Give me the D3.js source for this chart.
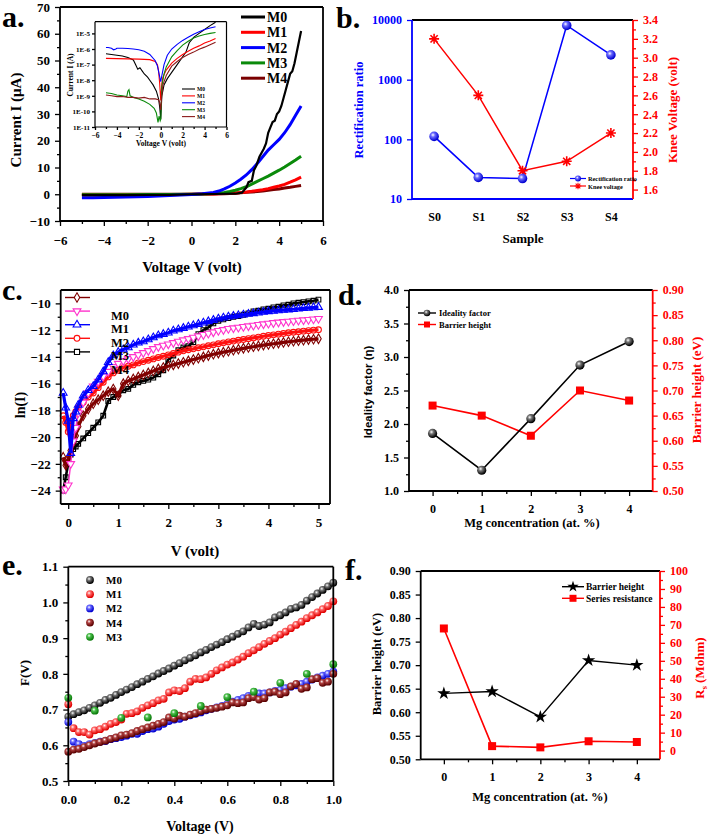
<!DOCTYPE html>
<html><head><meta charset="utf-8">
<script src="https://cdn.jsdelivr.net/npm/d3@7"></script>
<style>body{margin:0;background:#fff}svg{display:block}</style>
</head><body><svg id="fig" width="709" height="835"></svg>
<script>
// ---------- Panel a: I-V (linear) ----------
const aSeriesNames = ["M0","M1","M2","M3","M4"];
const aVoltsM0 = [-5,-4,-3,-2,-1,0,1,2,2.3,2.5,2.6,2.75,2.85,2.95,3.1,3.3,3.4,3.5,3.6,3.7,3.8,3.9,4.0,4.1,4.2,4.3,4.4,4.5,4.6,4.7,4.8,4.9,5.0];
const aCurrentM0 = [-0.3,-0.3,-0.3,-0.25,-0.2,0,0.1,0.2,0.6,2.5,4.5,5,9,10.5,14,17,19,23,25,27,27.5,30,31,33,36,39,42,45,46,49,53,57,61];
const aVolts = [-5,-4.5,-4,-3,-2,-1,0,0.5,1,1.25,1.5,1.75,2,2.25,2.5,2.75,3,3.25,3.5,3.75,4,4.25,4.5,4.75,5];
const aCurrentM1 = [-0.25,-0.25,-0.25,-0.2,-0.2,-0.15,0,0.05,0.1,0.15,0.25,0.35,0.5,0.65,0.85,1.1,1.4,1.7,2.1,2.6,3.1,3.7,4.5,5.4,6.4];
const aCurrentM2 = [-1.3,-1.3,-1.2,-1.0,-0.8,-0.5,-0.1,0.2,0.7,1.2,2.0,3.0,4.2,5.6,7.2,9.2,11.5,14,16.5,18.5,20.5,23,26,29.5,33];
const aCurrentM3 = [-0.2,-0.2,-0.2,-0.15,-0.1,-0.05,0,0.1,0.3,0.45,0.7,1.0,1.5,2.1,2.8,3.8,4.8,5.8,6.8,7.9,9.0,10.2,11.5,12.8,14.2];
const aCurrentM4 = [0,0,0,0,0,0,0,0.05,0.1,0.15,0.2,0.3,0.4,0.55,0.7,0.85,1.0,1.25,1.5,1.75,2.0,2.3,2.6,2.95,3.3];
const aYTicks = [-10,0,10,20,30,40,50,60,70];
const aXTicks = [-6,-4,-2,0,2,4,6];

// inset (log10 of current in A)
const insetV_M0 = [-5,-4.5,-4,-3.5,-3,-2.5,-2.3,-2.1,-1.9,-1.7,-1.5,-1.2,-1,-0.7,-0.4,-0.2,-0.1,0,0.1,0.3,0.6,1,1.5,2,2.3,2.6,3,3.5,4,4.5,5];
const insetLog_M0 = [-6.3,-6.35,-6.4,-6.45,-6.55,-6.7,-7.0,-7.3,-7.2,-7.4,-7.6,-7.8,-8.0,-8.3,-8.7,-9.2,-9.7,-10.5,-9.0,-8.3,-7.9,-7.5,-7.0,-6.5,-6.2,-5.6,-5.25,-5.0,-4.75,-4.5,-4.28];
const insetV_M1 = [-5,-4,-3,-2,-1,-0.5,-0.3,-0.2,-0.1,0,0.1,0.2,0.5,1,1.5,2,2.5,3,3.5,4,4.5,5];
const insetLog_M1 = [-6.6,-6.62,-6.63,-6.65,-6.68,-6.8,-7.0,-7.4,-8.2,-9.3,-8.2,-7.8,-7.35,-6.9,-6.6,-6.35,-6.15,-5.95,-5.8,-5.62,-5.48,-5.33];
const insetV_M2 = [-5,-4.8,-4.5,-4.3,-4.1,-4,-3.5,-3,-2.5,-2,-1.5,-1,-0.5,-0.3,-0.15,0,0.1,0.3,0.6,1,1.5,2,2.5,3,3.5,4,4.5,5];
const insetLog_M2 = [-5.9,-5.9,-5.95,-6.05,-6.0,-5.95,-5.95,-5.97,-6.0,-6.05,-6.15,-6.35,-6.75,-7.1,-7.6,-8.1,-7.7,-7.0,-6.4,-6.0,-5.7,-5.45,-5.25,-5.05,-4.9,-4.75,-4.65,-4.57];
const insetV_M3 = [-5,-4.5,-4,-3.5,-3.1,-3.0,-2.9,-2.8,-2.5,-2,-1.5,-1,-0.6,-0.4,-0.25,-0.15,-0.05,0,0.1,0.3,0.5,1,1.5,2,2.5,3,3.5,4,4.5,5];
const insetLog_M3 = [-8.8,-8.85,-8.95,-9.0,-9.05,-8.7,-8.6,-9.0,-9.1,-9.2,-9.35,-9.55,-9.8,-10.1,-10.7,-10.3,-10.6,-10.5,-8.4,-7.6,-7.15,-6.5,-6.1,-5.75,-5.5,-5.3,-5.17,-5.07,-5.0,-4.94];
const insetV_M4 = [-5,-4.5,-4,-3.5,-3,-2.5,-2,-1.5,-1,-0.5,-0.2,-0.1,0,0.1,0.2,0.5,1,1.5,2,2.5,3,3.5,4,4.5,5];
const insetLog_M4 = [-8.95,-9.0,-9.05,-9.05,-9.1,-9.1,-9.15,-9.1,-9.2,-9.2,-9.25,-9.4,-9.9,-8.9,-8.3,-7.7,-7.1,-6.8,-6.55,-6.35,-6.2,-6.02,-5.88,-5.72,-5.56];
const insetYTicks = [1e-11,1e-10,1e-9,1e-8,1e-7,1e-6,1e-5];
const insetYLabels = ["1E-11","1E-10","1E-9","1E-8","1E-7","1E-6","1E-5"];

// ---------- Panel b ----------
const bSamples = ["S0","S1","S2","S3","S4"];
const bRectification = [112,23,22,8100,2600];
const bKneeVoltage = [3.2,2.6,1.8,1.9,2.2];
const bLeftTicks = [10,100,1000,10000];
const bRightTicks = [1.6,1.8,2.0,2.2,2.4,2.6,2.8,3.0,3.2,3.4];

// ---------- Panel c ----------
const cVolts = [-0.1,-0.05,0,0.05,0.1,0.15,0.2,0.3,0.4,0.5,0.6,0.7,0.8,0.9,1.0,1.1,1.2,1.3,1.4,1.5,1.6,1.7,1.8,1.9,2.0,2.1,2.2,2.3,2.4,2.5,2.6,2.7,2.8,2.9,3.0,3.1,3.2,3.3,3.4,3.5,3.6,3.7,3.8,3.9,4.0,4.1,4.2,4.3,4.4,4.5,4.6,4.7,4.8,4.9,5.0];
const cLnBrown = [-21.5,-22.1,-21.6,-21.0,-20.4,-19.9,-19.2,-18.4,-17.9,-17.5,-17.2,-16.9,-16.6,-16.4,-16.9,-16.0,-15.8,-15.65,-15.5,-15.35,-15.2,-15.05,-14.9,-14.8,-14.7,-14.6,-14.5,-14.4,-14.3,-14.2,-14.1,-14.0,-13.9,-13.8,-13.72,-13.65,-13.58,-13.5,-13.43,-13.36,-13.3,-13.24,-13.18,-13.12,-13.07,-13.02,-12.97,-12.92,-12.87,-12.83,-12.79,-12.75,-12.71,-12.68,-12.65];
const cLnM0 = [-23.9,-23.9,-23.6,-22.0,-20.3,-19.3,-18.2,-17.4,-16.7,-16.2,-15.85,-15.45,-15.1,-14.75,-14.5,-14.3,-14.15,-14.0,-13.85,-13.7,-13.55,-13.4,-13.25,-13.15,-13.05,-12.95,-12.85,-12.75,-12.65,-12.55,-12.45,-12.35,-12.25,-12.15,-12.05,-11.98,-11.9,-11.85,-11.8,-11.75,-11.7,-11.65,-11.6,-11.55,-11.5,-11.46,-11.42,-11.38,-11.35,-11.32,-11.28,-11.25,-11.22,-11.19,-11.15];
const cLnM1 = [-16.7,-17.8,-18.8,-21.2,-18.6,-18.1,-17.6,-16.9,-16.5,-16.2,-15.7,-15.1,-14.4,-13.9,-13.65,-13.45,-13.3,-13.1,-12.95,-12.85,-12.7,-12.55,-12.4,-12.3,-12.2,-12.05,-11.95,-11.85,-11.75,-11.65,-11.55,-11.45,-11.35,-11.25,-11.15,-11.08,-11.0,-10.95,-10.9,-10.85,-10.8,-10.75,-10.7,-10.65,-10.6,-10.57,-10.53,-10.5,-10.47,-10.44,-10.4,-10.37,-10.34,-10.31,-10.28];
const cLnM2 = [-18.4,-18.9,-19.6,-19.0,-18.4,-18.1,-17.8,-17.4,-17.0,-16.7,-16.3,-15.9,-15.5,-15.2,-15.0,-14.8,-14.7,-14.6,-14.45,-14.35,-14.25,-14.15,-14.05,-13.95,-13.85,-13.75,-13.65,-13.55,-13.47,-13.4,-13.32,-13.25,-13.17,-13.1,-13.02,-12.95,-12.88,-12.82,-12.76,-12.7,-12.64,-12.58,-12.52,-12.46,-12.4,-12.35,-12.3,-12.25,-12.2,-12.16,-12.12,-12.08,-12.04,-12.0,-11.97];
const cLnM3 = [-24.0,-23.0,-22.0,-21.3,-20.9,-20.7,-20.5,-20.1,-19.7,-19.3,-18.9,-18.4,-17.3,-17.0,-16.8,-16.5,-16.4,-16.1,-15.9,-15.8,-15.7,-15.55,-15.3,-15.0,-14.2,-13.9,-13.5,-13.3,-13.2,-12.9,-12.3,-12.0,-11.8,-11.5,-11.3,-11.2,-11.1,-11.0,-10.95,-10.85,-10.75,-10.6,-10.55,-10.45,-10.4,-10.3,-10.25,-10.15,-10.1,-10.0,-9.95,-9.9,-9.85,-9.8,-9.72];
const cYTicks = [-24,-22,-20,-18,-16,-14,-12,-10];
const cXTicks = [0,1,2,3,4,5];
const cLegendLabels = ["M0","M1","M2","M3","M4"];

// ---------- Panel d ----------
const dMg = [0,1,2,3,4];
const dIdeality = [1.86,1.31,2.08,2.88,3.23];
const dBarrier = [0.67,0.65,0.61,0.70,0.68];
const dLeftTicks = [1.0,1.5,2.0,2.5,3.0,3.5,4.0];
const dRightTicks = [0.50,0.55,0.60,0.65,0.70,0.75,0.80,0.85,0.90];

// ---------- Panel e ----------
const eVolts = [0,0.02,0.04,0.06,0.08,0.1,0.12,0.14,0.16,0.18,0.2,0.22,0.24,0.26,0.28,0.3,0.32,0.34,0.36,0.38,0.4,0.42,0.44,0.46,0.48,0.5,0.52,0.54,0.56,0.58,0.6,0.62,0.64,0.66,0.68,0.7,0.72,0.74,0.76,0.78,0.8,0.82,0.84,0.86,0.88,0.9,0.92,0.94,0.96,0.98,1.0];
const eFM0 = [0.680,0.687,0.693,0.698,0.705,0.712,0.719,0.727,0.733,0.741,0.749,0.756,0.763,0.771,0.778,0.786,0.793,0.801,0.808,0.815,0.823,0.830,0.838,0.845,0.852,0.860,0.867,0.875,0.882,0.889,0.897,0.904,0.912,0.919,0.930,0.940,0.934,0.938,0.944,0.958,0.964,0.972,0.982,0.986,0.993,1.005,1.015,1.025,1.035,1.045,1.055];
const eFM1 = [0.715,0.648,0.637,0.637,0.630,0.642,0.645,0.652,0.660,0.665,0.672,0.688,0.690,0.695,0.705,0.712,0.718,0.726,0.730,0.748,0.754,0.752,0.760,0.778,0.786,0.785,0.790,0.800,0.810,0.818,0.826,0.832,0.840,0.848,0.858,0.866,0.875,0.884,0.892,0.900,0.910,0.918,0.928,0.937,0.946,0.956,0.964,0.972,0.981,0.990,1.003];
const eFM2 = [0.665,0.610,0.603,0.598,0.603,0.607,0.610,0.612,0.617,0.620,0.623,0.627,0.632,0.632,0.640,0.645,0.647,0.652,0.660,0.668,0.672,0.674,0.680,0.684,0.688,0.692,0.698,0.702,0.706,0.710,0.716,0.722,0.727,0.732,0.738,0.740,0.745,0.745,0.748,0.752,0.755,0.760,0.764,0.768,0.772,0.778,0.784,0.790,0.795,0.800,0.806];
const eFM4 = [0.582,0.588,0.590,0.595,0.600,0.605,0.609,0.613,0.618,0.622,0.628,0.630,0.634,0.640,0.645,0.650,0.655,0.660,0.665,0.678,0.675,0.683,0.680,0.686,0.690,0.695,0.700,0.702,0.705,0.708,0.712,0.720,0.718,0.720,0.732,0.735,0.728,0.732,0.748,0.750,0.743,0.748,0.765,0.772,0.758,0.762,0.785,0.788,0.775,0.778,0.800];
const eVoltsM3 = [0,0.1,0.2,0.3,0.4,0.5,0.6,0.7,0.8,0.9,1.0];
const eFM3 = [0.733,0.697,0.677,0.678,0.690,0.710,0.735,0.750,0.775,0.800,0.827];
const eYTicks = [0.5,0.6,0.7,0.8,0.9,1.0,1.1];
const eXTicks = [0,0.2,0.4,0.6,0.8,1.0];

// ---------- Panel f ----------
const fMg = [0,1,2,3,4];
const fBarrier = [0.64,0.644,0.59,0.71,0.70];
const fSeriesRes = [68,2.5,1.8,5.2,4.8];
const fLeftTicks = [0.50,0.55,0.60,0.65,0.70,0.75,0.80,0.85,0.90];
const fRightTicks = [0,10,20,30,40,50,60,70,80,90,100];

// ================= drawing =================
const SERIF = '"Liberation Serif","Times New Roman",serif';
const SANS = '"Liberation Sans",Arial,sans-serif';
const svg = d3.select("#fig");
svg.append("rect").attr("width",709).attr("height",835).attr("fill","#fff");
const defs = svg.append("defs");
function sphere(id, light, base){
  const g = defs.append("radialGradient").attr("id",id).attr("cx","38%").attr("cy","35%").attr("r","62%");
  g.append("stop").attr("offset","0%").attr("stop-color","#fff");
  g.append("stop").attr("offset","35%").attr("stop-color",light);
  g.append("stop").attr("offset","100%").attr("stop-color",base);
}
sphere("sBlack","#777","#000"); sphere("sRed","#ff6a6a","#e00000"); sphere("sBlue","#6a6aff","#0000d0");
sphere("sBrown","#b04040","#5a0000"); sphere("sGreen","#4cc04c","#0a7a0a");

function txt(g,x,y,s,o={}){
  const t=g.append("text").attr("x",x).attr("y",y).text(s)
   .attr("font-family",o.family||SERIF).attr("font-weight",o.weight||"bold")
   .attr("font-size",o.size||13).attr("fill",o.color||"#000").attr("text-anchor",o.anchor||"start");
  if(o.rotate) t.attr("transform",`rotate(${o.rotate},${x},${y})`);
  return t;
}
function addAxis(g,gen,tx,ty,color,size,family){
  const a=g.append("g").attr("transform",`translate(${tx},${ty})`).call(gen);
  a.select(".domain").remove();
  a.selectAll(".tick line").attr("stroke",color).attr("stroke-width",1.3);
  a.selectAll(".tick text").attr("fill",color).attr("font-size",size).attr("font-weight","bold").attr("font-family",family||SERIF);
  return a;
}
function frame(g,x0,y0,x1,y1,c={},w=1.8){
  const col=Object.assign({t:"#000",r:"#000",b:"#000",l:"#000"},c);
  g.append("line").attr("x1",x0).attr("x2",x1).attr("y1",y0).attr("y2",y0).attr("stroke",col.t).attr("stroke-width",w);
  g.append("line").attr("x1",x0).attr("x2",x1).attr("y1",y1).attr("y2",y1).attr("stroke",col.b).attr("stroke-width",w);
  g.append("line").attr("x1",x0).attr("x2",x0).attr("y1",y0).attr("y2",y1).attr("stroke",col.l).attr("stroke-width",w);
  g.append("line").attr("x1",x1).attr("x2",x1).attr("y1",y0).attr("y2",y1).attr("stroke",col.r).attr("stroke-width",w);
}
function minorVals(ticks,step){const out=[];for(let i=0;i<ticks.length-1;i++){out.push(+(ticks[i]+step).toFixed(4));}return out;}

// panel letters
[["a.",2,27],["b.",336,28],["c.",2,300],["d.",338,305],["e.",2,575],["f.",345,580]].forEach(d=>txt(svg,d[1],d[2],d[0],{size:30}));

// ---------------- Panel a ----------------
{
const g=svg.append("g");
const x=d3.scaleLinear().domain([-6,6]).range([60,323]);
const y=d3.scaleLinear().domain([-10,70]).range([221,7]);
addAxis(g,d3.axisLeft(y).tickValues(aYTicks).tickSize(5).tickPadding(5).tickFormat(d3.format("d")),60,0,"#000",13);
addAxis(g,d3.axisLeft(y).tickValues(minorVals(aYTicks,5)).tickSize(3).tickFormat(""),60,0,"#000",13);
addAxis(g,d3.axisBottom(x).tickValues(aXTicks).tickSize(5).tickPadding(10).tickFormat(d3.format("d")),0,221,"#000",13);
addAxis(g,d3.axisBottom(x).tickValues(minorVals(aXTicks,1)).tickSize(3).tickFormat(""),0,221,"#000",13);
const cols={M0:"#000",M1:"#ff0000",M2:"#0000ff",M3:"#0a8a0a",M4:"#7a0000"};
const series=[["M4",aVolts,aCurrentM4],["M1",aVolts,aCurrentM1],["M3",aVolts,aCurrentM3],["M2",aVolts,aCurrentM2],["M0",aVoltsM0,aCurrentM0]];
const line=d3.line().x(d=>x(d[0])).y(d=>y(d[1]));
series.forEach(s=>{
  g.append("path").datum(d3.zip(s[1],s[2])).attr("d",line).attr("fill","none").attr("stroke",cols[s[0]]).attr("stroke-width",s[0]=="M0"?2.2:3);
});
frame(g,60,7,323,221);
txt(g,192,272,"Voltage V (volt)",{size:15,anchor:"middle"});
txt(g,21,120,"Current I (\u03bcA)",{size:15,anchor:"middle",rotate:-90});
aSeriesNames.forEach((n,i)=>{
  const yy=17+i*15.3;
  g.append("line").attr("x1",241).attr("x2",265).attr("y1",yy).attr("y2",yy).attr("stroke",cols[n]).attr("stroke-width",3);
  txt(g,267,yy+5,n,{size:14});
});
// inset
const xi=d3.scaleLinear().domain([-6,6]).range([95,226.5]);
const yi=d3.scaleLog().domain([1e-11,Math.pow(10,-4.25)]).range([127,21.7]);
g.append("rect").attr("x",95).attr("y",21.7).attr("width",131.5).attr("height",105.3).attr("fill","#fff");
addAxis(g,d3.axisLeft(yi).tickValues(insetYTicks).tickSize(3).tickPadding(2).tickFormat((d,i)=>insetYLabels[i]),95,0,"#000",7);
addAxis(g,d3.axisBottom(xi).tickValues(aXTicks).tickSize(3).tickPadding(3).tickFormat(d3.format("d")),0,127,"#000",7.5);
addAxis(g,d3.axisBottom(xi).tickValues(minorVals(aXTicks,1)).tickSize(2).tickFormat(""),0,127,"#000",7);
const il=d3.line().x(d=>xi(d[0])).y(d=>yi(Math.pow(10,d[1])));
const iser=[["M0",insetV_M0,insetLog_M0],["M1",insetV_M1,insetLog_M1],["M2",insetV_M2,insetLog_M2],["M3",insetV_M3,insetLog_M3],["M4",insetV_M4,insetLog_M4]];
const icol={M0:"#000",M1:"#ff0000",M2:"#0000ff",M3:"#0a8a0a",M4:"#8b1a1a"};
iser.forEach(s=>g.append("path").datum(d3.zip(s[1],s[2])).attr("d",il).attr("fill","none").attr("stroke",icol[s[0]]).attr("stroke-width",1.1));
frame(g,95,21.7,226.5,127,{},1.2);
txt(g,161,146,"Voltage V (volt)",{size:7.5,anchor:"middle"});
txt(g,73,75,"Current I (A)",{size:7.5,anchor:"middle",rotate:-90});
aSeriesNames.forEach((n,i)=>{
  const yy=89+i*6.9;
  g.append("line").attr("x1",182).attr("x2",195).attr("y1",yy).attr("y2",yy).attr("stroke",icol[n]).attr("stroke-width",1.1);
  txt(g,197,yy+2,n,{size:5.5});
});
}

// ---------------- Panel b ----------------
{
const g=svg.append("g");
const x=d3.scaleLinear().domain([-0.5,4.5]).range([412,633]);
const y=d3.scaleLog().domain([10,10000]).range([199,20]);
const y2=d3.scaleLinear().domain([1.5,3.4]).range([199,20]);
addAxis(g,d3.axisLeft(y).tickValues(bLeftTicks).tickSize(5).tickPadding(5).tickFormat(d3.format("d")),412,0,"#0000ff",12);
addAxis(g,d3.axisRight(y2).tickValues(bRightTicks).tickSize(5).tickPadding(5).tickFormat(d3.format(".1f")),633,0,"#ff0000",12);
addAxis(g,d3.axisRight(y2).tickValues(minorVals(bRightTicks,0.1)).tickSize(3).tickFormat(""),633,0,"#ff0000",12);
addAxis(g,d3.axisBottom(x).tickValues(d3.range(bSamples.length)).tickSize(0).tickPadding(13).tickFormat((d,i)=>bSamples[i]),0,199,"#000",12);
const lb=d3.line().x((d,i)=>x(i)).y(d=>y(d));
const lk=d3.line().x((d,i)=>x(i)).y(d=>y2(d));
g.append("path").datum(bKneeVoltage).attr("d",lk).attr("fill","none").attr("stroke","#ff0000").attr("stroke-width",1.5);
g.append("path").datum(bRectification).attr("d",lb).attr("fill","none").attr("stroke","#0000ff").attr("stroke-width",1.5);
const ast="M-5,0L5,0M0,-5L0,5M-3.6,-3.6L3.6,3.6M-3.6,3.6L3.6,-3.6";
g.selectAll(".k").data(bKneeVoltage).join("path").attr("d",ast).attr("transform",(d,i)=>`translate(${x(i)},${y2(d)})`).attr("stroke","#ff0000").attr("stroke-width",1.6).attr("fill","none");
g.selectAll(".r").data(bRectification).join("circle").attr("cx",(d,i)=>x(i)).attr("cy",d=>y(d)).attr("r",4.8).attr("fill","url(#sBlue)");
frame(g,412,20,633,199,{l:"#0000ff",b:"#0000ff",r:"#ff0000"});
txt(g,523,243,"Sample",{size:13,anchor:"middle"});
txt(g,363,110,"Rectification ratio",{size:12.5,anchor:"middle",rotate:-90,color:"#0000ff"});
txt(g,677,110,"Knee Voltage (volt)",{size:13,anchor:"middle",rotate:-90,color:"#ff0000"});
// legend
g.append("line").attr("x1",570).attr("x2",586).attr("y1",178.5).attr("y2",178.5).attr("stroke","#0000ff").attr("stroke-width",1.2);
g.append("circle").attr("cx",578).attr("cy",178.5).attr("r",3).attr("fill","url(#sBlue)");
g.append("line").attr("x1",570).attr("x2",586).attr("y1",186).attr("y2",186).attr("stroke","#ff0000").attr("stroke-width",1.2);
g.append("path").attr("d",ast).attr("transform","translate(578,186) scale(0.65)").attr("stroke","#ff0000").attr("stroke-width",1.6).attr("fill","none");
txt(g,588,181,"Rectification ratio",{size:6.3});
txt(g,588,188.5,"Knee voltage",{size:6.3});
}

// ---------------- Panel c ----------------
{
const g=svg.append("g");
const x=d3.scaleLinear().domain([-0.15,5.23]).range([60.7,330]);
const y=d3.scaleLinear().domain([-25,-9]).range([504,290]);
addAxis(g,d3.axisLeft(y).tickValues(cYTicks).tickSize(5).tickPadding(5).tickFormat(d3.format("d")),60.7,0,"#000",13);
addAxis(g,d3.axisLeft(y).tickValues(minorVals(cYTicks,1)).tickSize(3).tickFormat(""),60.7,0,"#000",13);
addAxis(g,d3.axisBottom(x).tickValues(cXTicks).tickSize(5).tickPadding(9).tickFormat(d3.format("d")),0,504,"#000",13);
addAxis(g,d3.axisBottom(x).tickValues(minorVals(cXTicks,0.5)).tickSize(3).tickFormat(""),0,504,"#000",13);
const line=d3.line().x(d=>x(d[0])).y(d=>y(d[1]));
const sers=[
 {v:cLnM3,c:"#000",sym:d3.symbolSquare,sz:22,rot:0,fill:"none",w:2.6},
 {v:cLnBrown,c:"#800000",sym:d3.symbolDiamond,sz:26,rot:0,fill:"none",w:3.2},
 {v:cLnM2,c:"#ff1010",sym:d3.symbolCircle,sz:26,rot:0,fill:"none",w:3.2},
 {v:cLnM0,c:"#ff33cc",sym:d3.symbolTriangle,sz:26,rot:180,fill:"#fff",w:1.4},
 {v:cLnM1,c:"#0000ff",sym:d3.symbolTriangle,sz:26,rot:0,fill:"none",w:3.2}
];
sers.forEach(s=>{
  const pts=d3.zip(cVolts,s.v);
  g.append("path").datum(pts).attr("d",line).attr("fill","none").attr("stroke",s.c).attr("stroke-width",s.w);
  g.selectAll(null).data(pts).join("path").attr("d",d3.symbol(s.sym,s.sz)).attr("transform",d=>`translate(${x(d[0])},${y(d[1])}) rotate(${s.rot})`).attr("fill",s.fill).attr("stroke",s.c).attr("stroke-width",1.1);
});
frame(g,60.7,290,330,504);
txt(g,195,556,"V (volt)",{size:15,anchor:"middle"});
txt(g,25,405,"ln(I)",{size:14,anchor:"middle",rotate:-90});
const leg=[{c:"#800000",sym:d3.symbolDiamond,rot:0},{c:"#ff33cc",sym:d3.symbolTriangle,rot:180},{c:"#0000ff",sym:d3.symbolTriangle,rot:0},{c:"#ff1010",sym:d3.symbolCircle,rot:0},{c:"#000",sym:d3.symbolSquare,rot:0}];
leg.forEach((l,i)=>{
  const yy=297.5+i*13.6;
  g.append("line").attr("x1",65).attr("x2",90).attr("y1",yy).attr("y2",yy).attr("stroke",l.c).attr("stroke-width",1.4);
  g.append("path").attr("d",d3.symbol(l.sym,26)).attr("transform",`translate(77,${yy}) rotate(${l.rot})`).attr("fill","#fff").attr("stroke",l.c).attr("stroke-width",1.1);
});
cLegendLabels.forEach((n,i)=>txt(g,111,320+i*13.4,n,{size:12.5}));
}

// ---------------- Panel d ----------------
{
const g=svg.append("g");
const x=d3.scaleLinear().domain([-0.48,4.48]).range([409,652.7]);
const y=d3.scaleLinear().domain([1,4]).range([491,290]);
const y2=d3.scaleLinear().domain([0.5,0.9]).range([491,290]);
addAxis(g,d3.axisLeft(y).tickValues(dLeftTicks).tickSize(5).tickPadding(5).tickFormat(d3.format(".1f")),409,0,"#000",12);
addAxis(g,d3.axisLeft(y).tickValues(minorVals(dLeftTicks,0.25)).tickSize(3).tickFormat(""),409,0,"#000",12);
addAxis(g,d3.axisRight(y2).tickValues(dRightTicks).tickSize(5).tickPadding(5).tickFormat(d3.format(".2f")),652.7,0,"#ff0000",12);
addAxis(g,d3.axisRight(y2).tickValues(minorVals(dRightTicks,0.025)).tickSize(3).tickFormat(""),652.7,0,"#ff0000",12);
addAxis(g,d3.axisBottom(x).tickValues(dMg).tickSize(5).tickPadding(8).tickFormat(d3.format("d")),0,491,"#000",12);
addAxis(g,d3.axisBottom(x).tickValues([0.5,1.5,2.5,3.5]).tickSize(3).tickFormat(""),0,491,"#000",12);
const l1=d3.line().x((d,i)=>x(dMg[i])).y(d=>y(d));
const l2=d3.line().x((d,i)=>x(dMg[i])).y(d=>y2(d));
g.append("path").datum(dBarrier).attr("d",l2).attr("fill","none").attr("stroke","#ff0000").attr("stroke-width",1.6);
g.append("path").datum(dIdeality).attr("d",l1).attr("fill","none").attr("stroke","#000").attr("stroke-width",1.6);
g.selectAll(null).data(dBarrier).join("rect").attr("x",(d,i)=>x(dMg[i])-4).attr("y",d=>y2(d)-4).attr("width",8).attr("height",8).attr("fill","#ff0000");
g.selectAll(null).data(dIdeality).join("circle").attr("cx",(d,i)=>x(dMg[i])).attr("cy",d=>y(d)).attr("r",4.6).attr("fill","url(#sBlack)");
frame(g,409,290,652.7,491,{r:"#ff0000"});
txt(g,532,527,"Mg concentration (at. %)",{size:12.5,anchor:"middle"});
txt(g,372,392,"Ideality factor (\u03b7)",{size:11.5,anchor:"middle",rotate:-90,family:SANS});
txt(g,701,390,"Barrier height (eV)",{size:13,anchor:"middle",rotate:-90,color:"#ff0000"});
g.append("line").attr("x1",418).attr("x2",436).attr("y1",313).attr("y2",313).attr("stroke","#000").attr("stroke-width",1.4);
g.append("circle").attr("cx",427).attr("cy",313).attr("r",3.3).attr("fill","url(#sBlack)");
g.append("line").attr("x1",418).attr("x2",436).attr("y1",324.5).attr("y2",324.5).attr("stroke","#ff0000").attr("stroke-width",1.4);
g.append("rect").attr("x",424).attr("y",321.5).attr("width",6).attr("height",6).attr("fill","#ff0000");
txt(g,439,316,"Ideality factor",{size:8.5});
txt(g,439,327.5,"Barrier height",{size:8.5});
}

// ---------------- Panel e ----------------
{
const g=svg.append("g");
const x=d3.scaleLinear().domain([0,1]).range([68.3,333.3]);
const y=d3.scaleLinear().domain([0.5,1.1]).range([781,566.7]);
addAxis(g,d3.axisLeft(y).tickValues(eYTicks).tickSize(5).tickPadding(5).tickFormat(d3.format(".1f")),68.3,0,"#000",13);
addAxis(g,d3.axisLeft(y).tickValues(minorVals(eYTicks,0.05)).tickSize(3).tickFormat(""),68.3,0,"#000",13);
addAxis(g,d3.axisBottom(x).tickValues(eXTicks).tickSize(5).tickPadding(9).tickFormat(d3.format(".1f")),0,781,"#000",13);
addAxis(g,d3.axisBottom(x).tickValues(minorVals(eXTicks,0.1)).tickSize(3).tickFormat(""),0,781,"#000",13);
const sers=[[eVolts,eFM0,"sBlack"],[eVolts,eFM1,"sRed"],[eVolts,eFM2,"sBlue"],[eVolts,eFM4,"sBrown"],[eVoltsM3,eFM3,"sGreen"]];
sers.forEach(s=>{
  g.selectAll(null).data(d3.zip(s[0],s[1])).join("circle").attr("cx",d=>x(d[0])).attr("cy",d=>y(d[1])).attr("r",3.9).attr("fill",`url(#${s[2]})`);
});
frame(g,68.3,566.7,333.3,781);
txt(g,200,831,"Voltage (V)",{size:14,anchor:"middle"});
txt(g,29,673,"F(V)",{size:13,anchor:"middle",rotate:-90});
[["M0","sBlack"],["M1","sRed"],["M2","sBlue"],["M4","sBrown"],["M3","sGreen"]].forEach((l,i)=>{
  const yy=580+i*14.2;
  g.append("circle").attr("cx",90).attr("cy",yy).attr("r",3.9).attr("fill",`url(#${l[1]})`);
  txt(g,106,yy+4,l[0],{size:11});
});
}

// ---------------- Panel f ----------------
{
const g=svg.append("g");
const x=d3.scaleLinear().domain([-0.48,4.48]).range([420.7,660]);
const y=d3.scaleLinear().domain([0.5,0.9]).range([759.3,571]);
const y2=d3.scaleLinear().domain([-4.84,100]).range([759.3,571]);
addAxis(g,d3.axisLeft(y).tickValues(fLeftTicks).tickSize(5).tickPadding(5).tickFormat(d3.format(".2f")),420.7,0,"#000",12);
addAxis(g,d3.axisRight(y2).tickValues(fRightTicks).tickSize(5).tickPadding(5).tickFormat(d3.format("d")),660,0,"#ff0000",12);
addAxis(g,d3.axisRight(y2).tickValues(minorVals(fRightTicks,5)).tickSize(3).tickFormat(""),660,0,"#ff0000",12);
addAxis(g,d3.axisBottom(x).tickValues(fMg).tickSize(5).tickPadding(8).tickFormat(d3.format("d")),0,759.3,"#000",12);
addAxis(g,d3.axisBottom(x).tickValues([0.5,1.5,2.5,3.5]).tickSize(3).tickFormat(""),0,759.3,"#000",12);
const l1=d3.line().x((d,i)=>x(fMg[i])).y(d=>y(d));
const l2=d3.line().x((d,i)=>x(fMg[i])).y(d=>y2(d));
g.append("path").datum(fSeriesRes).attr("d",l2).attr("fill","none").attr("stroke","#ff0000").attr("stroke-width",1.6);
g.append("path").datum(fBarrier).attr("d",l1).attr("fill","none").attr("stroke","#000").attr("stroke-width",1.4);
g.selectAll(null).data(fSeriesRes).join("rect").attr("x",(d,i)=>x(fMg[i])-4).attr("y",d=>y2(d)-4).attr("width",8).attr("height",8).attr("fill","#ff0000");
g.selectAll(null).data(fBarrier).join("path").attr("d",d3.symbol(d3.symbolStar,55)).attr("transform",(d,i)=>`translate(${x(fMg[i])},${y(d)})`).attr("fill","#000");
frame(g,420.7,571,660,759.3,{r:"#ff0000"});
txt(g,540,801,"Mg concentration (at. %)",{size:12.5,anchor:"middle"});
txt(g,381,664,"Barrier height (eV)",{size:12.5,anchor:"middle",rotate:-90});
const rt=txt(g,704,668,"R",{size:13,anchor:"middle",rotate:-90,color:"#ff0000"});
rt.append("tspan").attr("font-size",8).attr("dy",3).text("s");
rt.append("tspan").attr("dy",-3).text(" (Mohm)");
g.append("line").attr("x1",562).attr("x2",584).attr("y1",586.7).attr("y2",586.7).attr("stroke","#000").attr("stroke-width",1.4);
g.append("path").attr("d",d3.symbol(d3.symbolStar,40)).attr("transform","translate(573,586.7)").attr("fill","#000");
g.append("line").attr("x1",562).attr("x2",584).attr("y1",598.3).attr("y2",598.3).attr("stroke","#ff0000").attr("stroke-width",1.4);
g.append("rect").attr("x",569.5).attr("y",594.8).attr("width",7).attr("height",7).attr("fill","#ff0000");
txt(g,586,590,"Barrier height",{size:9.5});
txt(g,586,601.5,"Series resistance",{size:9.5});
}
</script></body></html>
